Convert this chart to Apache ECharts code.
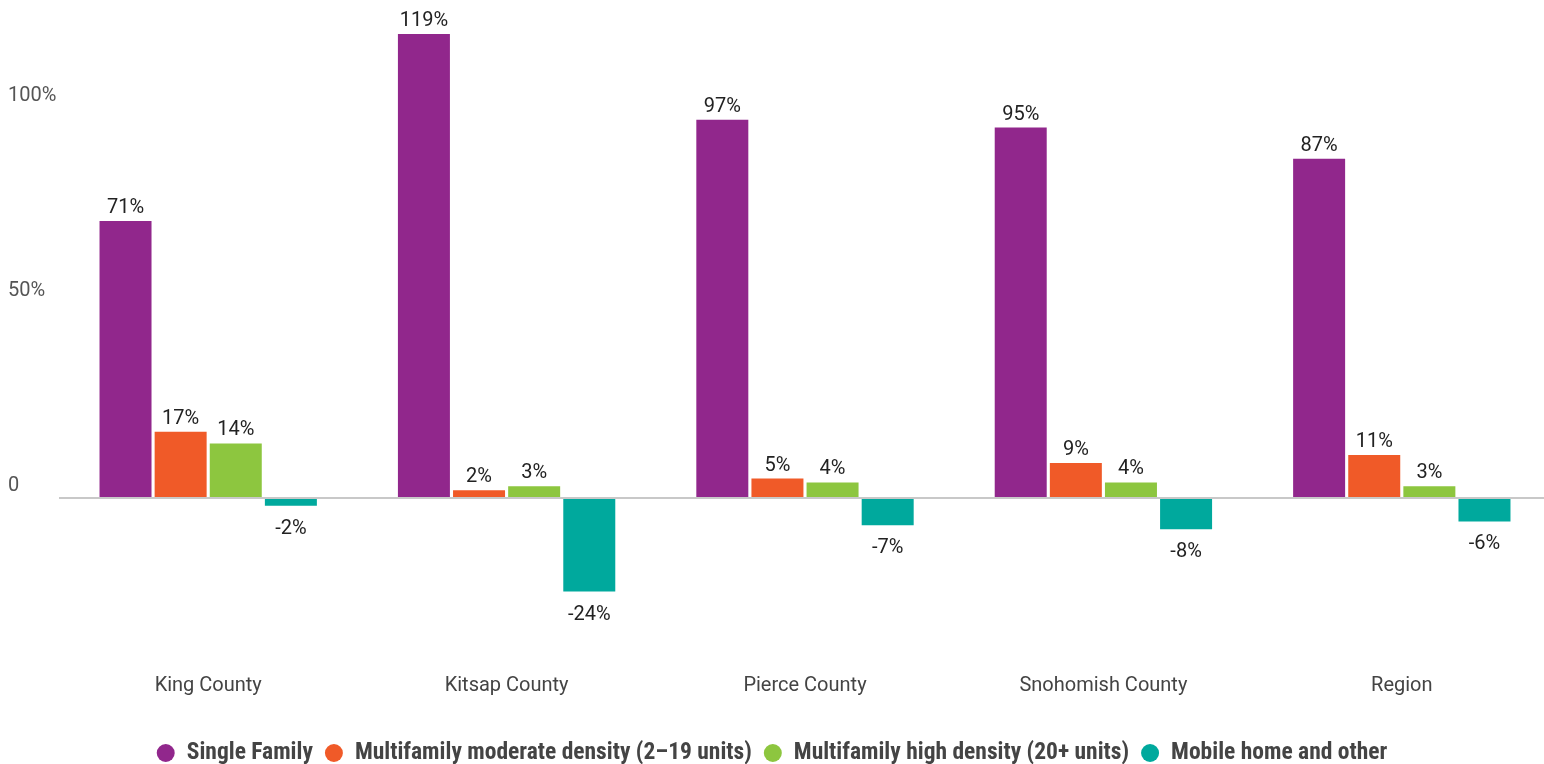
<!DOCTYPE html>
<html>
<head>
<meta charset="utf-8">
<script src="https://cdn.jsdelivr.net/npm/echarts@6/dist/echarts.min.js"></script>
<style>
  html, body { margin: 0; padding: 0; background: #fff; }
  #main { width: 1544px; height: 764px; }
</style>
</head>
<body>
<div id="main"></div>
<script>
var categories = ['King County', 'Kitsap County', 'Pierce County', 'Snohomish County', 'Region'];
var seriesNames = ['Single Family', 'Multifamily moderate density (2\u201319 units)', 'Multifamily high density (20+ units)', 'Mobile home and other'];
var singleFamily = [71, 119, 97, 95, 87];
var multiModerate = [17, 2, 5, 9, 11];
var multiHigh = [14, 3, 4, 4, 3];
var mobileHome = [-2, -24, -7, -8, -6];
var yTickLabels = { 0: '0', 50: '50%', 100: '100%' };

var colors = ['#91278c', '#f05a28', '#8dc63f', '#00a99d'];
var allValues = [singleFamily, multiModerate, multiHigh, mobileHome];

var dom = document.getElementById('main');
var myChart = echarts.init(dom);

function makeSeries(i) {
  var neg = i === 3;
  var s = {
    name: seriesNames[i],
    type: 'bar',
    data: allValues[i],
    barWidth: 52,
    barGap: '6%',
    itemStyle: { color: colors[i] },
    label: {
      show: true,
      position: neg ? 'bottom' : 'top',
      distance: neg ? 13 : 3,
      color: '#222',
      fontSize: 20,
      fontFamily: 'Roboto',
      formatter: '{c}%'
    }
  };
  if (i === 0) {
    // zero line
    s.markLine = {
      silent: true,
      symbol: 'none',
      label: { show: false },
      lineStyle: { color: '#c8c8c8', width: 2, type: 'solid' },
      data: [{ yAxis: 0 }]
    };
  }
  return s;
}

var option = {
  animation: false,
  color: colors,
  grid: { left: 59, top: 30, width: 1492, height: 624, containLabel: false, outerBoundsMode: 'none' },
  legend: {
    top: 736,
    left: 'center',
    icon: 'circle',
    itemWidth: 18,
    itemHeight: 18,
    itemGap: 12,
    formatter: function (name) { return '{pad|}' + name; },
    textStyle: {
      fontSize: 23.5,
      fontWeight: 'bold',
      fontFamily: "'Roboto Condensed', 'DejaVu Sans Condensed', Roboto",
      color: '#444',
      rich: { pad: { width: 7 } }
    }
  },
  xAxis: {
    type: 'category',
    data: categories,
    axisLine: { show: false, onZero: false },
    axisTick: { show: false },
    axisLabel: { margin: 22, color: '#444', fontSize: 20, fontFamily: 'Roboto' }
  },
  yAxis: {
    type: 'value',
    min: -40,
    max: 120,
    interval: 10,
    splitLine: { show: false },
    axisLine: { show: false },
    axisTick: { show: false },
    axisLabel: {
      margin: 51,
      align: 'left',
      verticalAlign: 'bottom',
      padding: [0, 0, 2, 0],
      color: '#555',
      fontSize: 20,
      fontFamily: 'Roboto',
      formatter: function (v) {
        return yTickLabels[v] !== undefined ? yTickLabels[v] : '';
      }
    }
  },
  series: [makeSeries(0), makeSeries(1), makeSeries(2), makeSeries(3)]
};

if (option && typeof option === 'object') {
  myChart.setOption(option, true);
}
</script>
</body>
</html>
